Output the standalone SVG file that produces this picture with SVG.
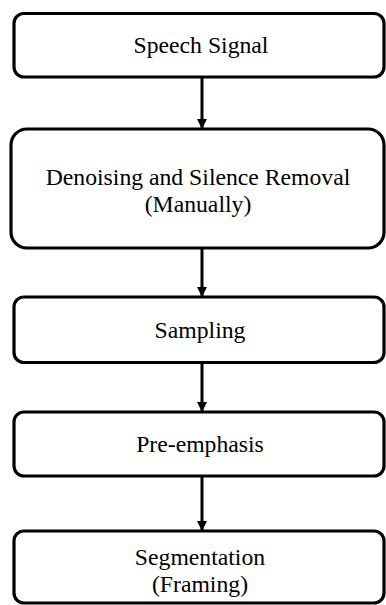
<svg xmlns="http://www.w3.org/2000/svg" width="386" height="605" viewBox="0 0 386 605">
<style>
.box{fill:#fff;stroke:#000;stroke-width:3.2}
.t{font-family:"Liberation Serif","Times New Roman",serif;font-size:23.7px;fill:#000;text-anchor:middle}
.c{stroke:#000;stroke-width:3;fill:none}
</style>
<defs>
<marker id="ah" markerUnits="userSpaceOnUse" markerWidth="10" markerHeight="13" refX="10" refY="5" orient="auto" viewBox="0 0 10 10">
<path d="M0,0 L10,5 L0,10 Z" fill="#000"/>
</marker>
</defs>
<rect width="386" height="605" fill="#fff"/>
<g id="n1"><rect class="box" x="14" y="13.5" width="370" height="63.5" rx="10"/><text class="t" x="201" y="53">Speech Signal</text></g>
<g id="n2"><rect class="box" x="11" y="129" width="373" height="119" rx="16"/><text class="t" x="198" y="185">Denoising and Silence Removal</text><text class="t" x="198" y="212">(Manually)</text></g>
<g id="n3"><rect class="box" x="14" y="297" width="370" height="65.5" rx="10"/><text class="t" x="200" y="338">Sampling</text></g>
<g id="n4"><rect class="box" x="14" y="412" width="370" height="64" rx="10"/><text class="t" x="200" y="452">Pre-emphasis</text></g>
<g id="n5"><rect class="box" x="14" y="531" width="370" height="72" rx="10"/><text class="t" x="200" y="565">Segmentation</text><text class="t" x="200" y="592">(Framing)</text></g>
<g id="connectors">
<line class="c" x1="202" y1="77" x2="202" y2="129" marker-end="url(#ah)"/>
<line class="c" x1="202" y1="248" x2="202" y2="297" marker-end="url(#ah)"/>
<line class="c" x1="202" y1="362" x2="202" y2="412" marker-end="url(#ah)"/>
<line class="c" x1="202" y1="476" x2="202" y2="531" marker-end="url(#ah)"/>
</g>
</svg>
